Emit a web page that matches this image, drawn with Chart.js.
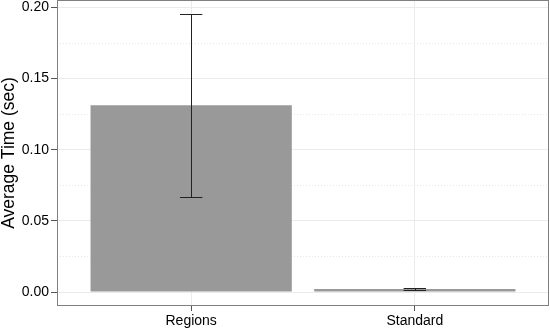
<!DOCTYPE html>
<html>
<head>
<meta charset="utf-8">
<script src="https://cdn.jsdelivr.net/npm/chart.js@4"></script>
<style>
html,body{margin:0;padding:0;background:#fff;}
#wrap{width:550px;height:330px;}
</style>
</head>
<body>
<div id="wrap"><canvas id="c" width="550" height="330"></canvas></div>
<script>
// ---- data ----
const categories = ['Regions', 'Standard'];
const avgTime = [0.1312, 0.0021];
const errLow = [0.0671, 0.0014];
const errHigh = [0.1953, 0.0028];
const yTicks = [0, 0.05, 0.10, 0.15, 0.20];
const yMinorTicks = [0.025, 0.075, 0.125, 0.175];
const yTitle = 'Average Time (sec)';

const FONT = "'Liberation Sans', Arial, Helvetica, sans-serif";

const panelPlugin = {
  id: 'panel',
  beforeDatasetsDraw(chart) {
    const {ctx, chartArea: a, scales: {y}} = chart;
    ctx.save();
    ctx.strokeStyle = '#e6e6e6';
    ctx.lineWidth = 1;
    ctx.setLineDash([1, 2]);
    yMinorTicks.forEach(v => {
      const py = Math.round(y.getPixelForValue(v)) + 0.5;
      ctx.beginPath();
      ctx.moveTo(a.left, py);
      ctx.lineTo(a.right, py);
      ctx.stroke();
    });
    ctx.restore();
  },
  afterDatasetsDraw(chart) {
    const {ctx, chartArea: a, scales: {x, y}} = chart;
    ctx.save();
    // error bars
    ctx.strokeStyle = '#222';
    ctx.lineWidth = 1;
    categories.forEach((c, i) => {
      const cx = Math.round(x.getPixelForValue(i + 1)) + 0.5;
      const x0 = x.getPixelForValue(i + 1 - 0.05);
      const x1 = x.getPixelForValue(i + 1 + 0.05);
      const yl = Math.round(y.getPixelForValue(errLow[i])) + 0.5;
      const yh = Math.round(y.getPixelForValue(errHigh[i])) + 0.5;
      ctx.beginPath();
      ctx.moveTo(cx, yl); ctx.lineTo(cx, yh);
      ctx.moveTo(x0, yl); ctx.lineTo(x1, yl);
      ctx.moveTo(x0, yh); ctx.lineTo(x1, yh);
      ctx.stroke();
    });
    // panel border
    ctx.strokeStyle = '#808080';
    ctx.lineWidth = 1;
    ctx.strokeRect(Math.round(a.left) + 0.5, Math.round(a.top) + 0.5,
                   Math.round(a.right - a.left) - 1, Math.round(a.bottom - a.top) - 1);
    ctx.restore();
  }
};

new Chart(document.getElementById('c'), {
  type: 'bar',
  data: {
    datasets: [{
      data: categories.map((c, i) => ({x: i + 1, y: avgTime[i]})),
      backgroundColor: '#999999',
      borderWidth: 0,
      barPercentage: 0.9,
      categoryPercentage: 1.0
    }]
  },
  options: {
    responsive: false,
    animation: false,
    devicePixelRatio: 1,
    layout: {padding: {top: 0, right: 1, bottom: 0, left: 0}},
    plugins: {legend: {display: false}, tooltip: {enabled: false}},
    scales: {
      x: {
        type: 'linear',
        offset: false,
        min: 0.4,
        max: 2.6,
        afterBuildTicks(s) { s.ticks = categories.map((c, i) => ({value: i + 1})); },
        afterFit(s) { s.height = 24; s.paddingLeft = 0; s.paddingRight = 0; },
        ticks: {
          autoSkip: false,
          maxRotation: 0,
          padding: 2,
          color: '#000',
          font: {family: FONT, size: 14},
          callback: v => categories[Math.round(v) - 1]
        },
        grid: {offset: false, color: '#ebebeb', lineWidth: 1, tickLength: 5, tickColor: '#555', tickWidth: 1},
        border: {display: false}
      },
      y: {
        type: 'linear',
        min: -0.00977,
        max: 0.20507,
        afterBuildTicks(s) { s.ticks = yTicks.map(v => ({value: v})); },
        afterFit(s) { s.width = 57; s.paddingTop = 0; s.paddingBottom = 0; },
        ticks: {
          padding: 2,
          color: '#000',
          font: {family: FONT, size: 14},
          callback: v => v.toFixed(2)
        },
        grid: {color: '#ebebeb', lineWidth: 1, tickLength: 6, tickColor: '#555', tickWidth: 1},
        border: {display: false},
        title: {
          display: true,
          text: yTitle,
          color: '#000',
          font: {family: FONT, size: 17.5, lineHeight: 1},
          padding: {top: 0, bottom: 0}
        }
      }
    }
  },
  plugins: [panelPlugin]
});
</script>
</body>
</html>
